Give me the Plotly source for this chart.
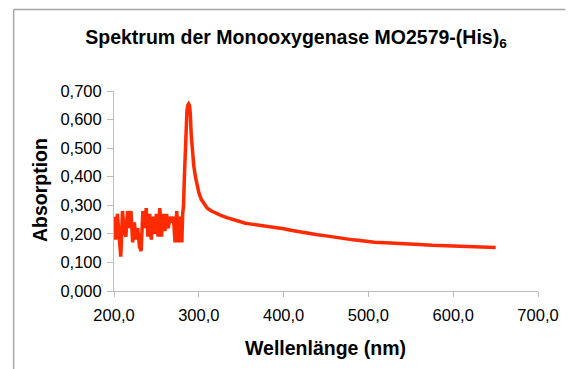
import plotly.graph_objects as go

# Absorption spectrum of the monooxygenase MO2579-(His)6
wavelength_nm = [
    200, 202, 204, 206, 208, 210, 212, 214, 216, 218, 220, 222, 224, 226,
    228, 230, 232, 234, 236, 238, 240, 242, 244, 246, 248, 250, 252, 254,
    256, 258, 260, 262, 264, 266, 268, 270, 272, 274, 276, 278, 280, 281,
    282, 283, 284, 285, 286, 287, 288, 289, 290, 291, 292, 294, 296, 298,
    300, 303, 306, 310, 315, 320, 326, 333, 340, 348, 355, 362, 370, 380,
    392, 400, 410, 420, 430, 440, 450, 460, 470, 482, 490, 500, 507, 520,
    530, 545, 560, 575, 590, 600, 615, 630, 640, 650,
]
absorption = [
    0.26, 0.18, 0.27, 0.19, 0.12, 0.28, 0.21, 0.19, 0.28, 0.22, 0.28, 0.17,
    0.24, 0.18, 0.22, 0.155, 0.14, 0.28, 0.22, 0.29, 0.19, 0.27, 0.18, 0.26,
    0.20, 0.27, 0.19, 0.29, 0.19, 0.27, 0.21, 0.27, 0.22, 0.26, 0.24, 0.26,
    0.17, 0.28, 0.17, 0.26, 0.17, 0.27,
    0.30, 0.40, 0.51, 0.58, 0.63, 0.65, 0.655, 0.65, 0.62, 0.55, 0.50, 0.44,
    0.40, 0.37, 0.345, 0.32, 0.305, 0.29, 0.28, 0.272, 0.265, 0.257, 0.25,
    0.243, 0.237, 0.234, 0.231, 0.227, 0.222, 0.218, 0.212, 0.206, 0.202,
    0.197, 0.193, 0.188, 0.184, 0.179, 0.177, 0.173, 0.171, 0.169, 0.168,
    0.166, 0.163, 0.160, 0.158, 0.157, 0.156, 0.154, 0.153, 0.152,
]

title_text = "Spektrum der Monooxygenase MO2579-(His)<sub>6</sub>"
x_title = "Wellenlänge (nm)"
y_title = "Absorption"

W, H = 571, 369
L, R, T, B = 114, 24, 91, 78
pw, ph = W - L - R, H - T - B


def px_x(x):
    return (x - L) / pw


def px_y(y):
    return (H - B - y) / ph


font = "Liberation Sans, Arial, sans-serif"
axis_grey = "#bdbdbd"

fig = go.Figure(
    go.Scatter(
        x=wavelength_nm,
        y=absorption,
        mode="lines",
        line=dict(color="#ff2a00", width=3.5),
        hoverinfo="skip",
    )
)

fig.update_layout(
    width=W,
    height=H,
    margin=dict(l=L, r=R, t=T, b=B),
    paper_bgcolor="white",
    plot_bgcolor="white",
    separators=", ",
    showlegend=False,
    font=dict(family=font, color="black", size=16.5),
    title=dict(
        text="<b>" + title_text + "</b>",
        font=dict(size=19.5, family=font, color="black"),
        xref="container",
        yref="container",
        x=296 / W,
        y=1 - 37 / H,
        xanchor="center",
        yanchor="middle",
    ),
    xaxis=dict(
        range=[200, 700],
        dtick=100,
        tick0=200,
        tickformat=".1f",
        showgrid=False,
        zeroline=False,
        showline=True,
        linecolor=axis_grey,
        linewidth=1,
        ticks="outside",
        ticklen=5,
        tickcolor=axis_grey,
        tickfont=dict(size=16.5),
        ticklabelstandoff=4,
    ),
    yaxis=dict(
        range=[0, 0.7],
        dtick=0.1,
        tickformat=".3f",
        showgrid=False,
        zeroline=False,
        showline=True,
        linecolor=axis_grey,
        linewidth=1,
        ticks="outside",
        ticklen=6,
        tickcolor=axis_grey,
        tickfont=dict(size=16.5),
        ticklabelstandoff=2,
    ),
    annotations=[
        dict(
            text="<b>" + x_title + "</b>",
            xref="paper", yref="paper",
            x=px_x(329.5), y=px_y(348),
            xanchor="center", yanchor="middle",
            showarrow=False,
            font=dict(size=19.5, family=font, color="black"),
        ),
        dict(
            text="<b>" + y_title + "</b>",
            xref="paper", yref="paper",
            x=px_x(38), y=px_y(190.5),
            xanchor="center", yanchor="middle",
            textangle=-90,
            showarrow=False,
            font=dict(size=19.5, family=font, color="black"),
        ),
    ],
    shapes=[
        # frame around the chart area (left and top edges)
        dict(
            type="line", xref="paper", yref="paper",
            x0=px_x(11.5), x1=px_x(11.5), y0=px_y(9.5), y1=px_y(372),
            line=dict(color="#a6a6a6", width=1.5),
        ),
        dict(
            type="line", xref="paper", yref="paper",
            x0=px_x(11.5), x1=px_x(575), y0=px_y(9.5), y1=px_y(9.5),
            line=dict(color="#a6a6a6", width=1.5),
        ),
    ],
)

fig.write_html("out.html")
